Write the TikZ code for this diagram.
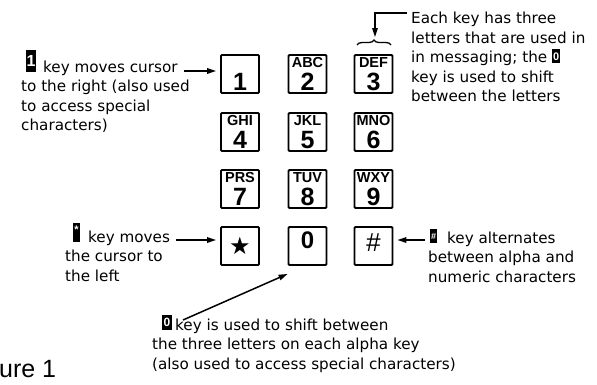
\documentclass[tikz,border=0pt]{standalone}
\usepackage{fontspec}
\setmainfont{DejaVu Sans}
\newfontfamily\keyfont{Liberation Sans}
\newfontfamily\symfont{DejaVu Sans}
\usetikzlibrary{arrows.meta,decorations.pathreplacing}
\newcommand\blk[5]{{\setlength\fboxsep{0pt}\colorbox{black}{\makebox[#1]{\rule{0pt}{#2}\raisebox{#3}{\color{white}\keyfont\bfseries\fontsize{#5}{#5}\selectfont #4}}}}}
\begin{document}
\begin{tikzpicture}[x=1pt,y=-1pt,
  keybox/.style={draw,line width=1.8pt,minimum width=38pt,minimum height=38pt,inner sep=0pt,rounded corners=1pt},
  lett/.style={anchor=north,inner sep=0pt,font=\keyfont\bfseries\fontsize{14.5}{14.5}\selectfont},
  digit/.style={anchor=base,inner sep=0pt,font=\keyfont\bfseries\fontsize{25}{25}\selectfont},
  lbl/.style={anchor=north west,inner sep=0pt,align=left,font=\fontsize{15.2}{19.5}\selectfont},
  invblk/.style={fill=black,text=white,inner sep=0pt,font=\keyfont\bfseries\fontsize{12}{12}\selectfont},
  arr/.style={line width=1.5pt,-{Triangle[length=9pt,width=5.5pt]}}
]
\useasboundingbox (0,0) rectangle (597,384);
% keys
\node[keybox] (k1) at (240,74) {};
\node[digit] (d1) at (240,90) {1};
\node[keybox] (k2) at (307.5,74) {};
\node[lett] (l2) at (307.5,57) {ABC};
\node[digit] (d2) at (307.5,90) {2};
\node[keybox] (k3) at (373.5,74) {};
\node[lett] (l3) at (373.5,57) {DEF};
\node[digit] (d3) at (373.5,90) {3};
\node[keybox] (k4) at (240,132) {};
\node[lett] (l4) at (240,115) {GHI};
\node[digit] (d4) at (240,148) {4};
\node[keybox] (k5) at (307.5,132) {};
\node[lett] (l5) at (307.5,115) {JKL};
\node[digit] (d5) at (307.5,148) {5};
\node[keybox] (k6) at (373.5,132) {};
\node[lett] (l6) at (373.5,115) {MNO};
\node[digit] (d6) at (373.5,148) {6};
\node[keybox] (k7) at (240,189) {};
\node[lett] (l7) at (240,172) {PRS};
\node[digit] (d7) at (240,205) {7};
\node[keybox] (k8) at (307.5,189) {};
\node[lett] (l8) at (307.5,172) {TUV};
\node[digit] (d8) at (307.5,205) {8};
\node[keybox] (k9) at (373.5,189) {};
\node[lett] (l9) at (373.5,172) {WXY};
\node[digit] (d9) at (373.5,205) {9};
\node[keybox] (ks) at (240,246) {};
\node[inner sep=0pt,font=\symfont\bfseries\fontsize{24}{24}\selectfont] (dstar) at (240,246) {★};
\node[keybox] (k0) at (307.5,246) {};
\node[digit,font=\keyfont\bfseries\fontsize{24}{24}\selectfont] (d0) at (307.5,248.5) {0};
\node[keybox] (kh) at (373.5,246) {};
\node[inner sep=0pt,font=\keyfont\itshape\fontsize{26}{26}\selectfont] (dh) at (373,242.5) {\#};
% labels
\node[lbl] (L1) at (21,60.5) {\hspace*{22pt}key moves cursor\\to the right (also used\\to access special\\characters)};
\node[invblk,minimum width=10pt,minimum height=22pt,font=\keyfont\bfseries\fontsize{16}{16}\selectfont] (b1) at (31,61) {1};
\node[lbl] (Ltop) at (411,12.2) {Each key has three\\letters that are used in\\in messaging; the \blk{8pt}{14pt}{2pt}{0}{11}\\key is used to shift\\between the letters};
\node[lbl] (Ls) at (65,230.5) {\hspace*{23pt}key moves\\the cursor to\\the left};
\node[invblk,minimum width=7pt,minimum height=19pt,font=\keyfont\bfseries\fontsize{11}{11}\selectfont] (bs) at (76.5,232.5) {\raisebox{6pt}{*}};
\node[lbl] (Lh) at (428,231.5) {\hspace*{19pt}key alternates\\between alpha and\\numeric characters};
\node[invblk,minimum width=7pt,minimum height=14pt,font=\keyfont\bfseries\fontsize{9}{9}\selectfont] (bh) at (433.5,236) {\#};
\node[lbl] (Lb) at (152,318.4) {\hspace*{23pt}key is used to shift between\\the three letters on each alpha key\\(also used to access special characters)};
\node[invblk,minimum width=10pt,minimum height=15pt,font=\keyfont\bfseries\fontsize{12}{12}\selectfont] (b0) at (167,322.5) {0};
\node[anchor=base west,inner sep=0pt,font=\keyfont\fontsize{25}{25}\selectfont] (fig) at (-1,377) {ure 1};
% connectors
\coordinate (a1s) at (184,71);
\draw[arr,shorten >=4pt] (a1s) -- (a1s -| k1.west);
\coordinate (ass) at (176,240);
\draw[arr,shorten >=4pt] (ass) -- (ass -| ks.west);
\coordinate (ahs) at (425,240);
\draw[arr,shorten >=4pt] (ahs) -- (ahs -| kh.east);
\coordinate (a0s) at (183,320);
\draw[arr] (a0s) -- ([yshift=-8pt]k0.south west);
\coordinate (ats) at (407,13);
\coordinate (atc) at (375,13);
\coordinate (ate) at (375,37);
\draw[arr] (ats) -- (atc) -- (ate);
\draw[line width=1.3pt,decorate,decoration={brace,amplitude=5pt}] (357,45) -- (391,45);
\end{tikzpicture}
\end{document}
